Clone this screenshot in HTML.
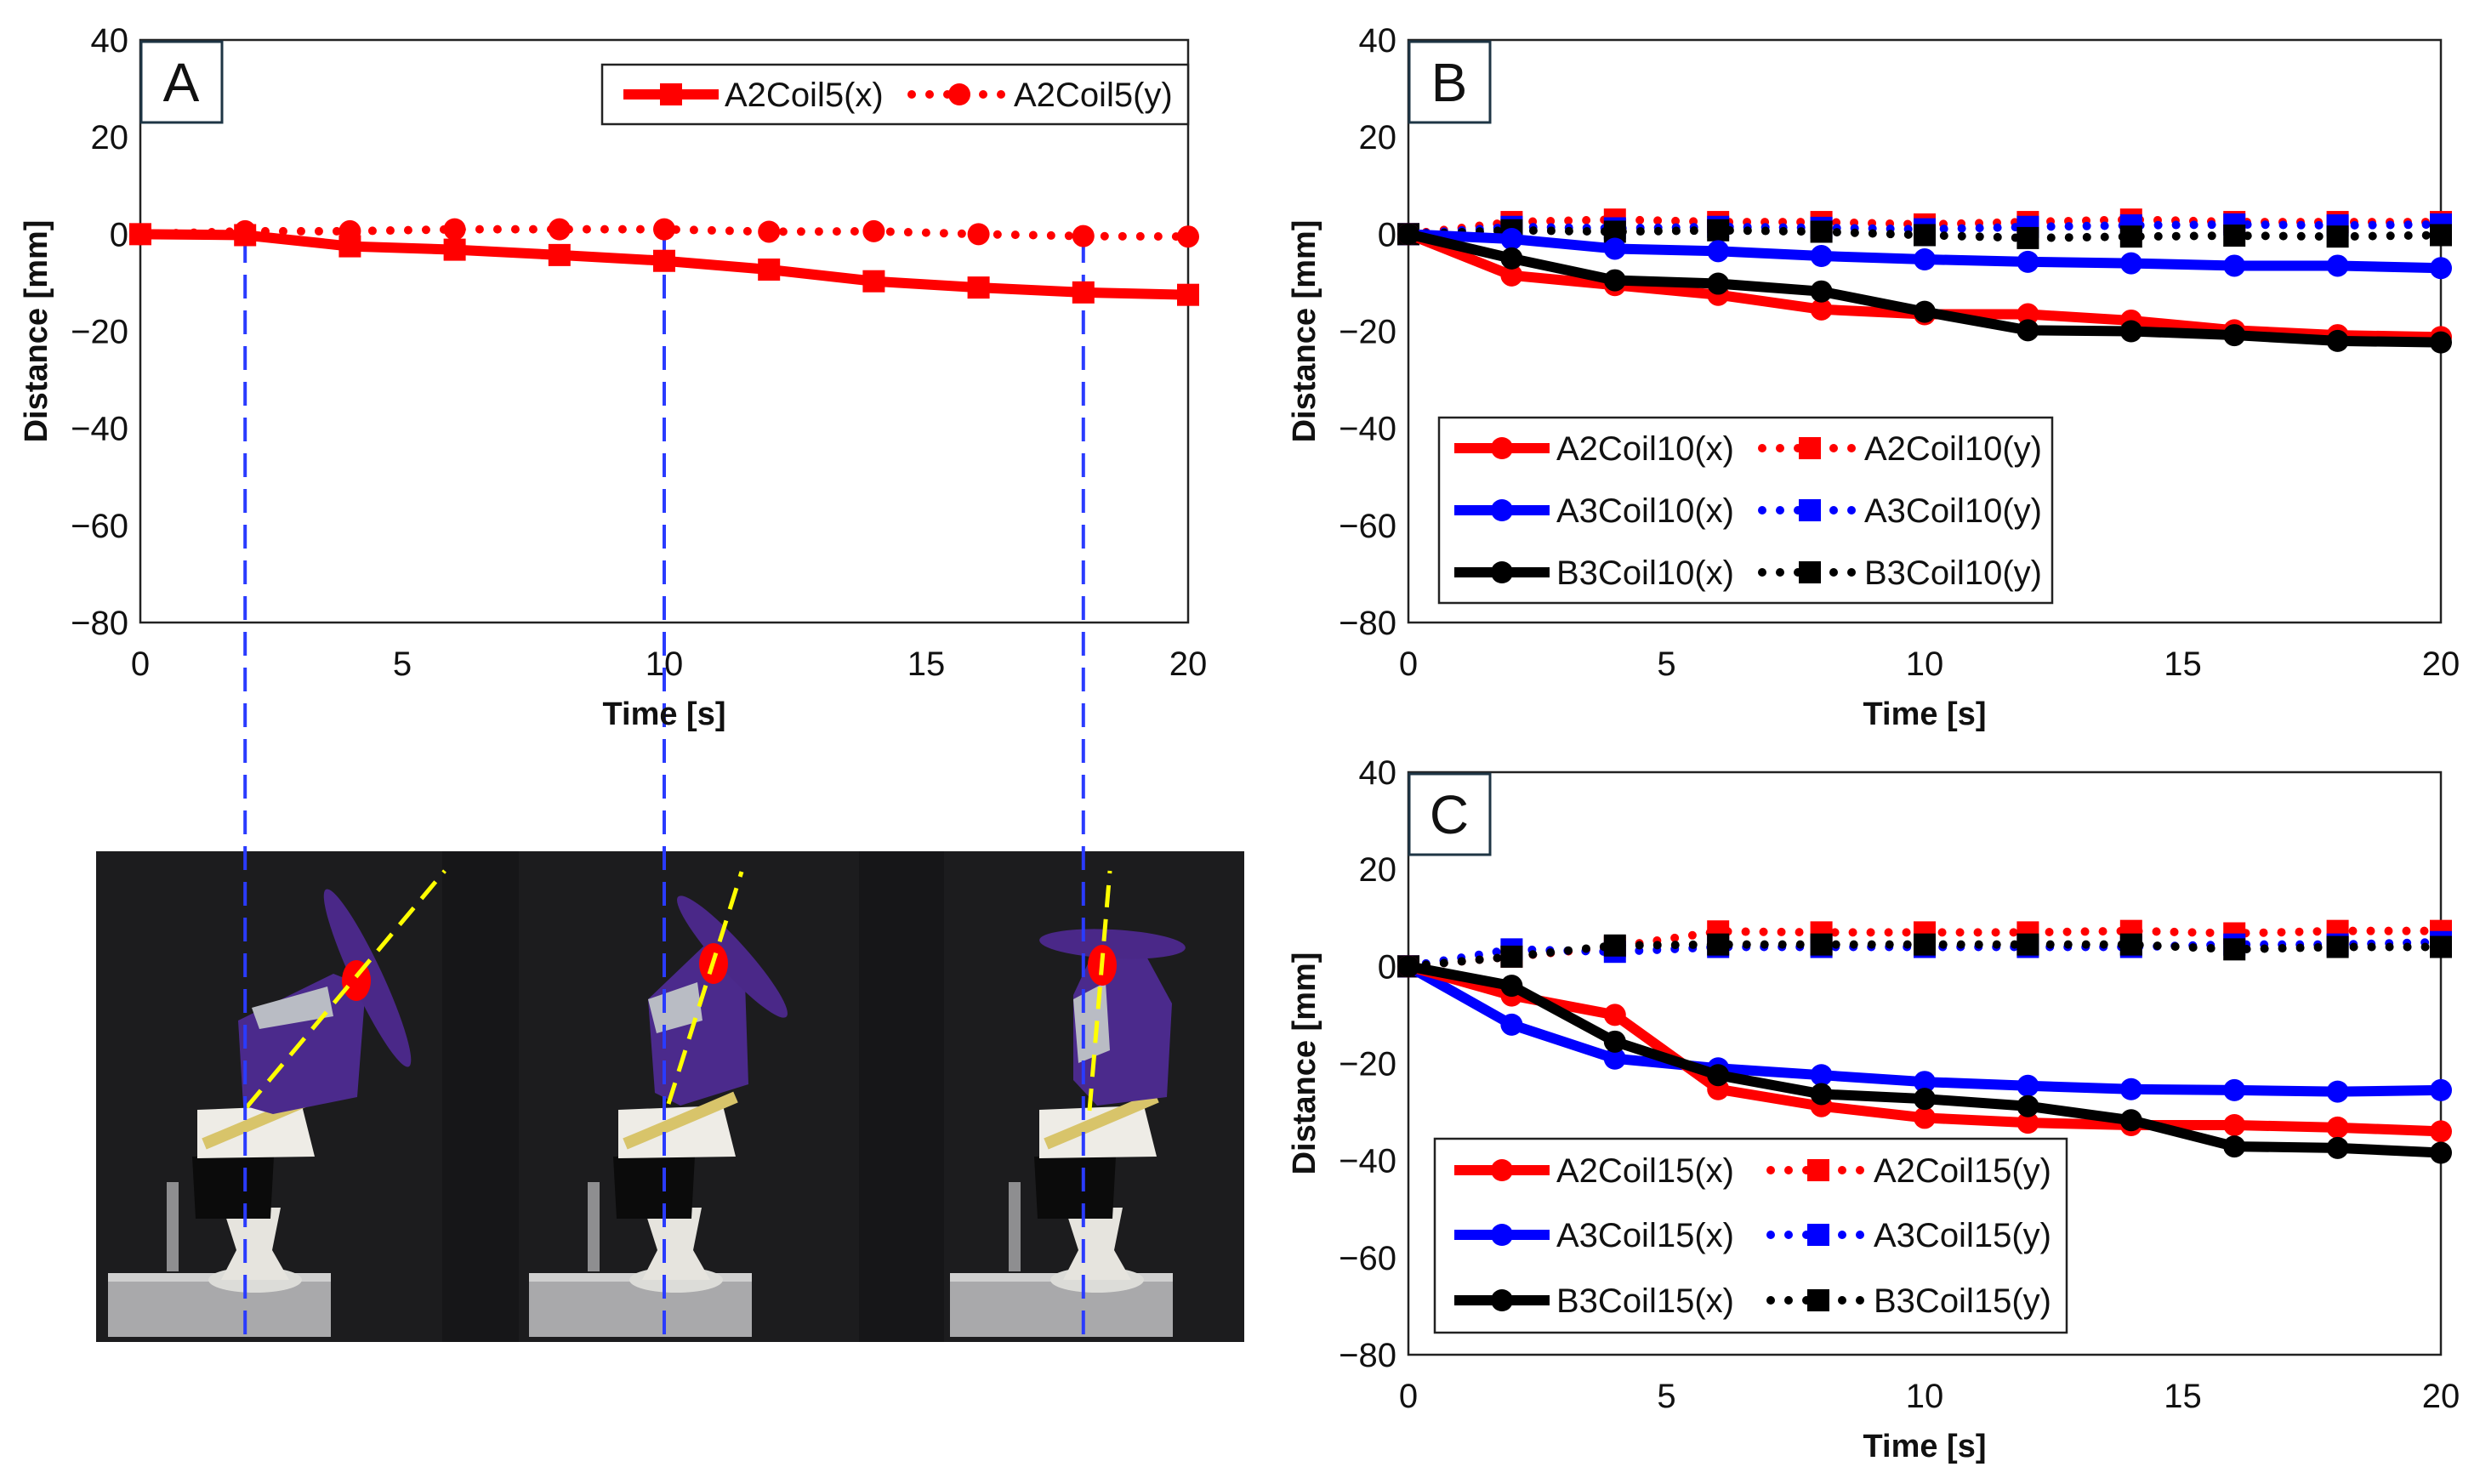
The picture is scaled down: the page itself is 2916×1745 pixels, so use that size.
<!DOCTYPE html>
<html><head><meta charset="utf-8"><style>
html,body{margin:0;padding:0;background:#fff}
svg{display:block;font-family:"Liberation Sans",Arial,sans-serif}
</style></head><body>
<svg id="fig" width="2916" height="1745" viewBox="0 0 2916 1745">
<g id="photo">
<rect x="113" y="1001" width="1350" height="577" fill="#1c1c1e"/>
<rect x="520" y="1001" width="90" height="577" fill="#161618"/>
<rect x="1010" y="1001" width="100" height="577" fill="#161618"/>
</g>
</svg>
<script>
// ---- data ----
const times = [0,2,4,6,8,10,12,14,16,18,20];
const xTicks = [0,5,10,15,20];
const yTicks = [40,20,0,-20,-40,-60,-80];
const a_A2x = [0,-0.2,-2.5,-3.2,-4.3,-5.5,-7.3,-9.7,-11,-12,-12.5];
const a_A2y = [0,0.6,0.6,1,1,1,0.5,0.6,0,-0.4,-0.5];
const b_A2x = [0,-8.5,-10.5,-12.5,-15.5,-16.5,-16.5,-17.8,-19.8,-20.8,-21.2];
const b_A3x = [0,-1,-3,-3.5,-4.5,-5.2,-5.7,-6,-6.5,-6.5,-7];
const b_B3x = [0,-5,-9.5,-10.2,-11.8,-16,-19.8,-20,-20.8,-22,-22.3];
const b_A2y = [0,2.5,3,2.5,2.5,2,2.5,3,2.5,2.5,2.5];
const b_A3y = [0,1.5,1.2,1.5,1.3,1,1.5,1.8,2,1.8,2];
const b_B3y = [0,0.8,0.5,0.8,0.5,-0.2,-0.8,-0.5,-0.3,-0.5,-0.2];
const c_A2x = [0,-6,-10,-25.3,-28.8,-31.2,-32.2,-32.7,-32.7,-33.2,-34];
const c_A3x = [0,-12,-19,-21,-22.4,-23.8,-24.6,-25.3,-25.5,-25.8,-25.5];
const c_B3x = [0,-4,-15.5,-22.4,-26.3,-27.3,-28.8,-31.7,-37.1,-37.4,-38.4];
const c_A2y = [0,2,4,7.2,7,7,7,7.3,6.8,7.3,7.3];
const c_A3y = [0,3.5,3,4,4,4,4,4,4.5,4.5,5];
const c_B3y = [0,2,4.3,4.5,4.5,4.5,4.5,4.5,3.5,4,4];
const markTimes = [2,10,18];

const NS="http://www.w3.org/2000/svg";
const svg=document.getElementById('fig');
function mk(tag,attrs,parent){const e=document.createElementNS(NS,tag);for(const k in attrs)e.setAttribute(k,attrs[k]);(parent||svg).appendChild(e);return e;}

function panel(p){
  const g=mk('g',{});
  
  
  const sx=t=>p.x0+t/20*(p.x1-p.x0);
  const sy=v=>p.y0+(40-v)/120*(p.y1-p.y0);
  const fr=mk('rect',{x:p.x0,y:p.y0,width:p.x1-p.x0,height:p.y1-p.y0,fill:'none',stroke:'#222','stroke-width':2.5},g);
  
  
  yTicks.forEach(v=>{const t=mk('text',{x:p.x0-14,y:sy(v)+14,'text-anchor':'end','font-size':40,fill:'#111'},g);t.textContent=(v<0?'\u2212'+(-v):v);
    
    });
  xTicks.forEach(v=>{const t=mk('text',{x:sx(v),y:p.y1+62,'text-anchor':'middle','font-size':40,fill:'#111'},g);t.textContent=v;
    
    });
  const xt=mk('text',{x:(p.x0+p.x1)/2,y:p.y1+120,'text-anchor':'middle','font-size':38,'font-weight':'bold',fill:'#111'},g);xt.textContent='Time [s]';
  
  
  const cy=(p.y0+p.y1)/2;
  const yt=mk('text',{x:p.x0-110,y:cy,'text-anchor':'middle','font-size':38,'font-weight':'bold',fill:'#111',transform:`rotate(-90 ${p.x0-110} ${cy})`},g);yt.textContent='Distance [mm]';
  
  
  p.series.forEach(s=>{
    const pts=times.map((t,i)=>sx(t)+','+sy(s.data[i])).join(' ');
    const sg=mk('g',{},g);
    
    
    if(s.dotted){mk('polyline',{points:pts,fill:'none',stroke:s.color,'stroke-width':10,'stroke-linecap':'round','stroke-dasharray':'0 21'},sg);}
    else{mk('polyline',{points:pts,fill:'none',stroke:s.color,'stroke-width':12,'stroke-linejoin':'round'},sg);}
    times.forEach((t,i)=>{
      if(s.marker==='sq')mk('rect',{x:sx(t)-13,y:sy(s.data[i])-13,width:26,height:26,fill:s.color},sg);
      else mk('circle',{cx:sx(t),cy:sy(s.data[i]),r:13,fill:s.color},sg);
    });
  });
  const lb=mk('g',{},g);
  
  
  mk('rect',{x:p.x0+1,y:p.y0+2,width:95,height:95,fill:'#fff',stroke:'#1e3545','stroke-width':3},lb);
  const lt=mk('text',{x:p.x0+48,y:p.y0+72,'text-anchor':'middle','font-size':64,fill:'#111'},lb);lt.textContent=p.id;
  const L=p.legend;
  const lg=mk('g',{},g);
  
  
  mk('rect',{x:L.x,y:L.y,width:L.w,height:L.h,fill:'#fff',stroke:'#222','stroke-width':2.5},lg);
  L.items.forEach(it=>{
    const eg=mk('g',{},lg);
    
    
    const s=it.s;
    if(s.dotted){mk('line',{x1:it.sx,y1:it.y,x2:it.sx+108,y2:it.y,stroke:s.color,'stroke-width':10,'stroke-linecap':'round','stroke-dasharray':'0 21'},eg);}
    else mk('line',{x1:it.sx,y1:it.y,x2:it.sx+112,y2:it.y,stroke:s.color,'stroke-width':12},eg);
    const mx=it.sx+56;
    if(s.marker==='sq')mk('rect',{x:mx-13,y:it.y-13,width:26,height:26,fill:s.color},eg);
    else mk('circle',{cx:mx,cy:it.y,r:13,fill:s.color},eg);
    const tx=mk('text',{x:it.tx,y:it.y+14,'font-size':40,fill:'#111'},eg);tx.textContent=s.name;
  });
}

function frame(ox,f){
  const g=mk('g',{});
  
  
  const b=mk('g',{transform:`translate(${ox},0)`},g);
  mk('rect',{x:127,y:1497,width:262,height:75,fill:'#a9a9ab'},b);
  mk('rect',{x:127,y:1497,width:262,height:10,fill:'#d0d0d0'},b);
  mk('ellipse',{cx:300,cy:1505,rx:55,ry:15,fill:'#dcdcd8'},b);
  mk('polygon',{points:'262,1420 330,1420 320,1470 340,1505 260,1505 278,1470',fill:'#e6e4de'},b);
  mk('polygon',{points:'226,1360 322,1360 318,1433 230,1433',fill:'#0b0b0b'},b);
  mk('rect',{x:196,y:1390,width:14,height:105,fill:'#8e8e90'},b);
  mk('polygon',{points:'232,1305 355,1300 370,1360 232,1362',fill:'#eeece6'},b);
  mk('path',{d:'M240 1345 Q300 1320 370 1290',stroke:'#d8c46a','stroke-width':14,fill:'none'},b);
  mk('polygon',{points:f.body,fill:'#4b2a8c'},g);
  mk('ellipse',{cx:f.dx,cy:f.dy,rx:f.rx,ry:f.ry,transform:`rotate(${f.rot} ${f.dx} ${f.dy})`,fill:'#4a2888'},g);
  mk('polygon',{points:f.tape,fill:'#b9bcc4'},g);
  mk('ellipse',{cx:f.cx,cy:f.cy,rx:17,ry:24,fill:'#ff0000'},g);
  mk('line',{x1:f.l[0],y1:f.l[1],x2:f.l[2],y2:f.l[3],stroke:'#ffff00','stroke-width':5,'stroke-dasharray':'26 14'},g);
}
frame(0,{body:'280,1200 392,1145 430,1160 420,1290 321,1310 286,1300',dx:432,dy:1150,rx:18,ry:115,rot:-25,
  tape:'296,1185 385,1160 392,1195 305,1210',cx:419,cy:1153,l:[290,1302,523,1024]});
frame(495,{body:'762,1175 830,1110 875,1125 880,1275 800,1300 770,1285',dx:861,dy:1125,rx:18,ry:95,rot:-42,
  tape:'762,1175 820,1155 826,1200 772,1215',cx:839,cy:1133,l:[786,1298,872,1025]});
frame(990,{body:'1262,1170 1290,1110 1340,1110 1378,1180 1372,1290 1290,1300 1262,1270',dx:1308,dy:1110,rx:86,ry:17,rot:3,
  tape:'1262,1175 1300,1155 1305,1235 1268,1250',cx:1296,cy:1135,l:[1281,1306,1305,1024]});

const xa0=165,xa1=1397;
markTimes.forEach(t=>{
  const x=xa0+t/20*(xa1-xa0);
  const l=mk('line',{x1:x,y1:281,x2:x,y2:1578,stroke:'#2a3bff','stroke-width':4,'stroke-dasharray':'28 14'});
  
  
});
const S=(name,data,color,dotted,marker)=>({name,data,color,dotted,marker});
const aX=S('A2Coil5(x)',a_A2x,'#ff0000',false,'sq'), aY=S('A2Coil5(y)',a_A2y,'#ff0000',true,'ci');
panel({id:'A',x0:165,x1:1397,y0:47,y1:732,series:[aY,aX],
  legend:{x:708,y:76,w:689,h:70,items:[{s:aX,sx:733,tx:852,y:111},{s:aY,sx:1072,tx:1192,y:111}]}});
const bs=[S('A2Coil10(x)',b_A2x,'#ff0000',false,'ci'),S('A2Coil10(y)',b_A2y,'#ff0000',true,'sq'),
          S('A3Coil10(x)',b_A3x,'#0000ff',false,'ci'),S('A3Coil10(y)',b_A3y,'#0000ff',true,'sq'),
          S('B3Coil10(x)',b_B3x,'#000000',false,'ci'),S('B3Coil10(y)',b_B3y,'#000000',true,'sq')];
panel({id:'B',x0:1656,x1:2870,y0:47,y1:732,series:[bs[1],bs[3],bs[5],bs[2],bs[0],bs[4]],
  legend:{x:1692,y:491,w:721,h:218,items:[
    {s:bs[0],sx:1710,tx:1830,y:527},{s:bs[1],sx:2072,tx:2192,y:527},
    {s:bs[2],sx:1710,tx:1830,y:600},{s:bs[3],sx:2072,tx:2192,y:600},
    {s:bs[4],sx:1710,tx:1830,y:673},{s:bs[5],sx:2072,tx:2192,y:673}]}});
const cs=[S('A2Coil15(x)',c_A2x,'#ff0000',false,'ci'),S('A2Coil15(y)',c_A2y,'#ff0000',true,'sq'),
          S('A3Coil15(x)',c_A3x,'#0000ff',false,'ci'),S('A3Coil15(y)',c_A3y,'#0000ff',true,'sq'),
          S('B3Coil15(x)',c_B3x,'#000000',false,'ci'),S('B3Coil15(y)',c_B3y,'#000000',true,'sq')];
panel({id:'C',x0:1656,x1:2870,y0:908,y1:1593,series:[cs[1],cs[3],cs[5],cs[2],cs[0],cs[4]],
  legend:{x:1687,y:1339,w:743,h:228,items:[
    {s:cs[0],sx:1710,tx:1830,y:1376},{s:cs[1],sx:2082,tx:2203,y:1376},
    {s:cs[2],sx:1710,tx:1830,y:1452},{s:cs[3],sx:2082,tx:2203,y:1452},
    {s:cs[4],sx:1710,tx:1830,y:1529},{s:cs[5],sx:2082,tx:2203,y:1529}]}});
</script>
</body></html>
